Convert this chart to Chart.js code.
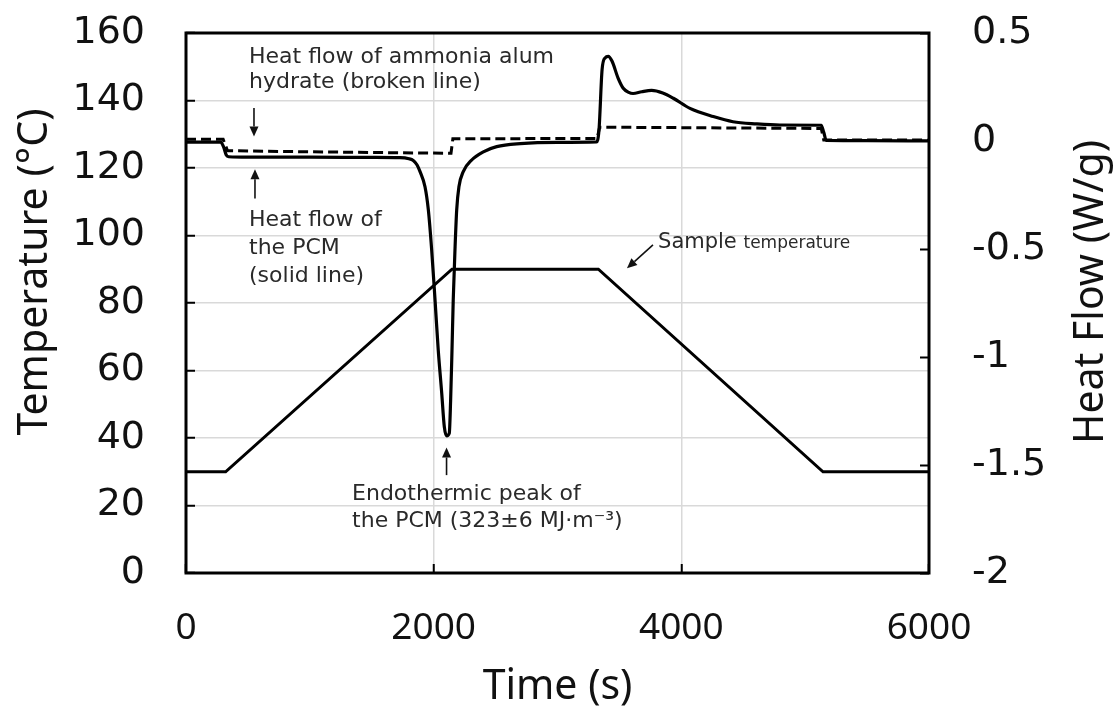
<!DOCTYPE html>
<html lang="en">
<head>
<meta charset="UTF-8">
<title>DSC heat flow and sample temperature</title>
<style>
  html, body { margin: 0; padding: 0; background: #fff; }
  #chart { display: block; }
</style>
</head>
<body>
<canvas id="chart" width="1119" height="724"></canvas>
<script src="https://cdn.jsdelivr.net/npm/chart.js@4"></script>
<script>
// sample temperature programme (time s -> °C)
const tempTime  = [0, 320, 2148, 3330, 5144, 6000];
const tempValue = [30, 30, 90, 90, 30, 30];

// heat flow of the PCM, solid line (time s -> W/g)
const pcmTime = [0, 280, 305, 325, 345, 500, 1000, 1500, 1728, 1800, 1835, 1865, 1890, 1930, 1957,
  1984, 2011, 2037, 2065, 2086, 2105, 2126, 2137, 2148, 2158, 2172, 2186, 2204, 2239, 2307, 2401,
  2509, 2700, 3000, 3315, 3335, 3360, 3385, 3410, 3440, 3490, 3531, 3575, 3610, 3680, 3760, 3850,
  3935, 4070, 4258, 4417, 4608, 4796, 5130, 5150, 5170, 5500, 6000];
const pcmFlow = [-0.005, -0.005, -0.03, -0.065, -0.073, -0.075, -0.075, -0.076, -0.077, -0.082, -0.09,
  -0.11, -0.142, -0.212, -0.319, -0.505, -0.736, -0.968, -1.167, -1.323, -1.365, -1.353, -1.2, -0.968,
  -0.736, -0.505, -0.319, -0.212, -0.142, -0.088, -0.05, -0.026, -0.012, -0.006, -0.004, 0.05, 0.33,
  0.385, 0.392, 0.37, 0.29, 0.244, 0.225, 0.22, 0.228, 0.234, 0.222, 0.198, 0.151, 0.113, 0.089,
  0.079, 0.074, 0.073, 0.04, 0.003, 0.002, 0.0];

// heat flow of ammonia alum hydrate, broken line (time s -> W/g)
const alumTime = [0, 300, 335, 1000, 2140, 2155, 3320, 3340, 5130, 5150, 6000];
const alumFlow = [0.008, 0.008, -0.045, -0.05, -0.057, 0.01, 0.012, 0.064, 0.058, 0.005, 0.004];

// axes
const timeRange = [0, 6000, 2000];
const tempRange = [0, 160, 20];
const flowRange = [-2, 0.5, 0.5];

const toPoints = (xs, ys) => xs.map((x, i) => ({ x: x, y: ys[i] }));

// annotation texts, anchored in (time, temperature) coordinates
const notes = [
  { t: 509, v: 151.0, text: 'Heat flow of ammonia alum', size: 22 },
  { t: 509, v: 143.6, text: 'hydrate (broken line)', size: 22 },
  { t: 509, v: 102.8, text: 'Heat flow of', size: 22 },
  { t: 509, v: 94.5, text: 'the PCM', size: 22 },
  { t: 509, v: 86.2, text: '(solid line)', size: 22 },
  { t: 1341, v: 21.6, text: 'Endothermic peak of', size: 22 },
  { t: 1341, v: 13.6, text: 'the PCM (323±6 MJ·m⁻³)', size: 22 }
];
const arrows = [
  { from: [549, 137.8], to: [549, 129.3] },
  { from: [557, 111.0], to: [557, 119.6] },
  { from: [2104, 29.0], to: [2104, 37.2] },
  { from: [3771, 97.2], to: [3561, 90.3] }
];

const lightGrid = '#d9d9d9';
const FONT = "'DejaVu Sans', Verdana, sans-serif";

// keep the tick-label padding from pushing the plot area down
const fixWidth = w => s => { s.width = w; s.paddingTop = 0; s.paddingBottom = 0; };

const extras = {
  id: 'extras',
  afterDraw(chart) {
    const { ctx, chartArea: a, scales } = chart;
    const px = t => scales.x.getPixelForValue(t);
    const py = v => scales.y.getPixelForValue(v);
    ctx.save();

    // closed frame around the plot
    ctx.strokeStyle = '#000';
    ctx.lineWidth = 3;
    ctx.strokeRect(a.left, a.top, a.right - a.left, a.bottom - a.top);

    // notes
    ctx.fillStyle = '#2a2a2a';
    ctx.textBaseline = 'alphabetic';
    ctx.textAlign = 'left';
    notes.forEach(n => {
      ctx.font = n.size + 'px ' + FONT;
      ctx.fillText(n.text, px(n.t), py(n.v));
    });
    // "Sample temperature" uses two sizes
    let sx = px(3812), sy = py(96.3);
    ctx.font = '21px ' + FONT;
    ctx.fillText('Sample', sx, sy);
    sx += ctx.measureText('Sample ').width;
    ctx.font = '17px ' + FONT;
    ctx.fillText('temperature', sx, sy);

    // arrows
    ctx.strokeStyle = '#111';
    ctx.fillStyle = '#111';
    ctx.lineWidth = 1.6;
    arrows.forEach(ar => {
      const x1 = px(ar.from[0]), y1 = py(ar.from[1]);
      const x2 = px(ar.to[0]), y2 = py(ar.to[1]);
      const ang = Math.atan2(y2 - y1, x2 - x1);
      const hl = 10, hw = 4.5;
      const bx = x2 - hl * Math.cos(ang), by = y2 - hl * Math.sin(ang);
      ctx.beginPath();
      ctx.moveTo(x1, y1);
      ctx.lineTo(bx, by);
      ctx.stroke();
      ctx.beginPath();
      ctx.moveTo(x2, y2);
      ctx.lineTo(bx + hw * Math.sin(ang), by - hw * Math.cos(ang));
      ctx.lineTo(bx - hw * Math.sin(ang), by + hw * Math.cos(ang));
      ctx.closePath();
      ctx.fill();
    });

    // vertical axis titles (both read bottom to top)
    ctx.fillStyle = '#111';
    ctx.font = "41px 'Noto Sans', sans-serif";
    ctx.textAlign = 'center';
    ctx.textBaseline = 'middle';
    ctx.translate(35, 272);
    ctx.rotate(-Math.PI / 2);
    ctx.fillText('Temperature (°C)', 0, 0);
    ctx.setTransform(1, 0, 0, 1, 0, 0);
    ctx.translate(1091, 292);
    ctx.rotate(-Math.PI / 2);
    ctx.fillText('Heat Flow (W/g)', 0, 0);
    ctx.restore();
  }
};

new Chart(document.getElementById('chart'), {
  type: 'line',
  data: {
    datasets: [
      {
        label: 'Sample temperature',
        data: toPoints(tempTime, tempValue),
        yAxisID: 'y',
        borderColor: '#000',
        borderWidth: 3,
        pointRadius: 0,
        tension: 0
      },
      {
        label: 'Heat flow of the PCM',
        data: toPoints(pcmTime, pcmFlow),
        yAxisID: 'y1',
        borderColor: '#000',
        borderWidth: 3.2,
        pointRadius: 0,
        cubicInterpolationMode: 'monotone'
      },
      {
        label: 'Heat flow of ammonia alum hydrate',
        data: toPoints(alumTime, alumFlow),
        yAxisID: 'y1',
        borderColor: '#000',
        borderWidth: 3,
        borderDash: [10, 5],
        pointRadius: 0,
        tension: 0
      }
    ]
  },
  options: {
    responsive: false,
    animation: false,
    devicePixelRatio: 1,
    layout: { padding: { top: 33, left: 0, right: 0, bottom: 0 } },
    plugins: { legend: { display: false }, tooltip: { enabled: false } },
    scales: {
      x: {
        type: 'linear',
        min: timeRange[0], max: timeRange[1],
        afterFit: s => { s.height = 151; },
        border: { display: false },
        grid: { color: lightGrid, lineWidth: 1.5, tickColor: '#000', tickWidth: 2, tickLength: -9 },
        ticks: {
          stepSize: timeRange[2],
          padding: 42,
          color: '#111',
          font: { family: "'Noto Sans', sans-serif", size: 37 },
          callback: v => String(v)
        },
        title: {
          display: true,
          text: 'Time (s)',
          color: '#111',
          font: { family: "'Noto Sans', sans-serif", size: 41 },
          padding: { top: 0, bottom: 12 }
        }
      },
      y: {
        position: 'left',
        min: tempRange[0], max: tempRange[1],
        afterFit: fixWidth(186),
        border: { display: false },
        grid: { color: lightGrid, lineWidth: 1.5, tickColor: '#000', tickWidth: 2, tickLength: -9 },
        ticks: {
          stepSize: tempRange[2],
          padding: 50,
          color: '#111',
          font: { family: FONT, size: 38 },
          callback: v => String(v)
        }
      },
      y1: {
        position: 'right',
        min: flowRange[0], max: flowRange[1],
        afterFit: fixWidth(190),
        border: { display: false },
        grid: { drawOnChartArea: false, tickColor: '#000', tickWidth: 2, tickLength: -9 },
        ticks: {
          stepSize: flowRange[2],
          padding: 52,
          color: '#111',
          font: { family: FONT, size: 38 },
          callback: v => String(v)
        }
      }
    }
  },
  plugins: [extras]
});
</script>
</body>
</html>
